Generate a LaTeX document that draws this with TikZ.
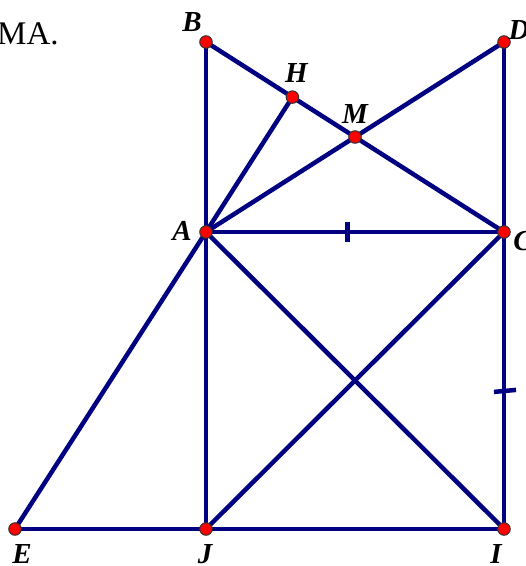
\documentclass[tikz,border=0pt]{standalone}
\usepackage{fontspec}
\setmainfont{Liberation Serif}
\usetikzlibrary{calc}
\definecolor{segblue}{RGB}{0,0,128}
\tikzset{
  seg/.style={draw=segblue, line width=4.5pt, line cap=round},
  tick/.style={draw=segblue, line width=4.5pt},
  dot/.style={circle, draw=black!80, line width=1pt, fill=red, inner sep=0pt, minimum size=12.5pt},
  lbl/.style={font=\fontsize{29}{29}\selectfont\bfseries\itshape, inner sep=0pt}
}
\begin{document}
\begin{tikzpicture}[x=1pt, y=-1pt]
  \useasboundingbox (0,0) rectangle (526,566);
  % points
  \coordinate (B) at (206,42);
  \coordinate (D) at (504,42);
  \coordinate (A) at (206,232);
  \coordinate (C) at (504,232);
  \coordinate (E) at (15,529);
  \coordinate (J) at (206,529);
  \coordinate (I) at (504,529);
  \coordinate (H) at ($(B)!0.29!(C)$);
  \coordinate (M) at ($(B)!0.5!(C)$);
  % text
  \node[anchor=base west, font=\fontsize{33}{33}\selectfont, inner sep=0pt] (txt) at (-3,44) {MA.};
  % segments
  \draw[seg] (B) -- (J);
  \draw[seg] (D) -- (I);
  \draw[seg] (B) -- (C);
  \draw[seg] (D) -- (A);
  \draw[seg] (A) -- (H);
  \draw[seg] (A) -- (C);
  \draw[seg] (A) -- (I);
  \draw[seg] (C) -- (J);
  \draw[seg] (A) -- (E);
  \draw[seg] (E) -- (I);
  % equal marks
  \draw[tick] ($(A)!0.475!(C)+(0,-10)$) -- ($(A)!0.475!(C)+(0,10)$);
  \draw[tick] ($(C)!0.535!(I)+(-10,1)$) -- ($(C)!0.535!(I)+(12,-1)$);
  % dots
  \foreach \p in {B,D,H,M,A,C,E,J,I}
    \node[dot] (dot\p) at (\p) {};
  % labels
  \node[lbl] (lB) at ($(B)+(-14,-20)$) {B};
  \node[lbl] (lD) at ($(D)+(15,-12)$) {D};
  \node[lbl] (lH) at ($(H)+(4,-24)$) {H};
  \node[lbl] (lM) at ($(M)+(0,-23)$) {M};
  \node[lbl] (lA) at ($(A)+(-24,-1)$) {A};
  \node[lbl] (lC) at ($(C)+(19,9)$) {C};
  \node[lbl] (lE) at ($(E)+(7,25)$) {E};
  \node[lbl] (lJ) at ($(J)+(-1,25)$) {J};
  \node[lbl] (lI) at ($(I)+(-8,25)$) {I};
\end{tikzpicture}
\end{document}
